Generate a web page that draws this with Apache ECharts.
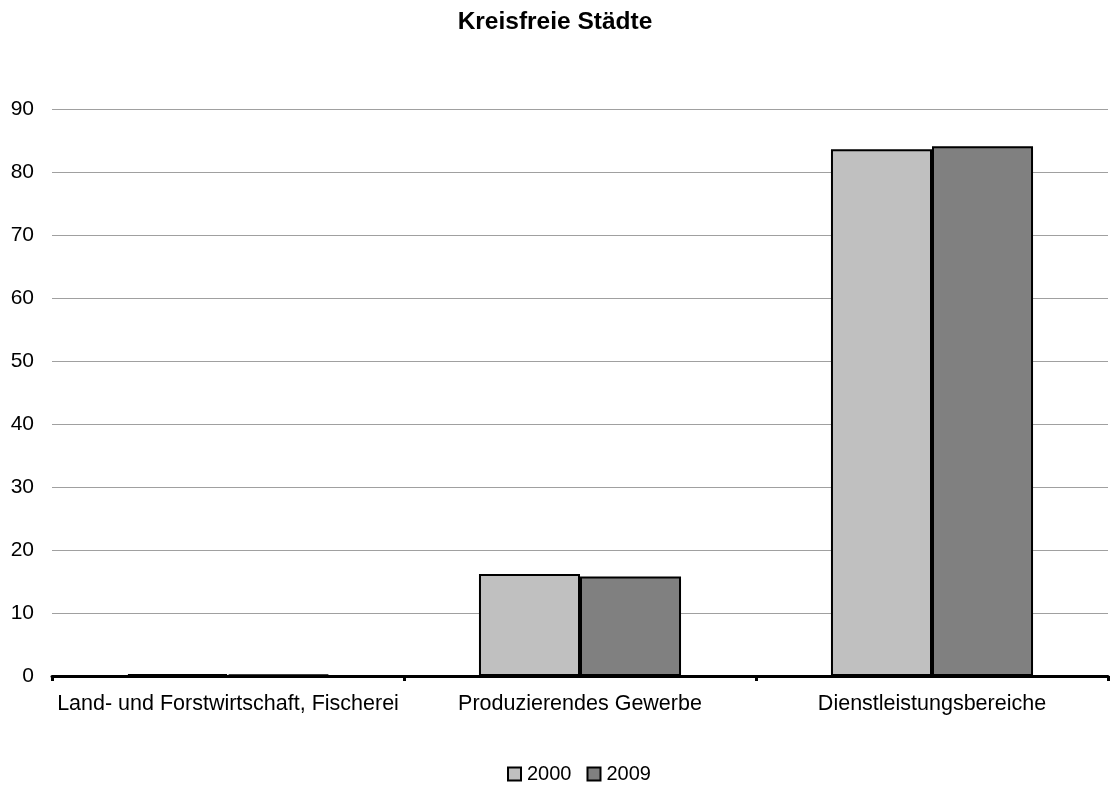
<!DOCTYPE html>
<html>
<head>
<meta charset="utf-8">
<script src="https://cdn.jsdelivr.net/npm/echarts@6/dist/echarts.min.js"></script>
<style>html,body{margin:0;padding:0;background:#fff}#c{width:1110px;height:785px}</style>
</head>
<body>
<div id="c"></div>
<script>
const categories = ['Land- und Forstwirtschaft, Fischerei', 'Produzierendes Gewerbe', 'Dienstleistungsbereiche'];
const seriesNames = ['2000', '2009'];
const values2000 = [0.3, 16.2, 83.6];
const values2009 = [0.2, 15.8, 84.1];
const title = 'Kreisfreie Städte';

const chart = echarts.init(document.getElementById('c'), null, {renderer: 'canvas'});
const font = 'Liberation Sans, Arial, sans-serif';
chart.setOption({
  animation: false,
  backgroundColor: '#fff',
  title: {
    text: title, left: 'center', top: 5,
    textStyle: {fontFamily: font, fontSize: 24.5, fontWeight: 'bold', color: '#000'}
  },
  legend: {
    top: 764, left: 507, padding: 0,
    icon: 'rect',
    itemWidth: 13, itemHeight: 13, itemGap: 15,
    textStyle: {fontFamily: font, fontSize: 20, color: '#000', padding: [0,0,0,1]},
    data: seriesNames
  },
  grid: {left: 52, right: 2, top: 109, bottom: 109, containLabel: false},
  xAxis: {
    type: 'category', data: categories,
    axisLine: {lineStyle: {color: '#000', width: 3}},
    axisTick: {show: true, interval: 0, length: 5, lineStyle: {color: '#000', width: 3}},
    axisLabel: {interval: 0, fontFamily: font, fontSize: 21.5, color: '#000', margin: 17}
  },
  yAxis: {
    type: 'value', min: 0, max: 90, interval: 10,
    axisLine: {show: false}, axisTick: {show: false},
    splitLine: {lineStyle: {color: '#a0a0a0', width: 1}},
    axisLabel: {fontFamily: font, fontSize: 21, color: '#000', margin: 18}
  },
  series: [
    {name: seriesNames[0], type: 'bar', data: values2000, barGap: '0%', barCategoryGap: '42.6%',
     itemStyle: {color: '#c0c0c0', borderColor: '#000', borderWidth: 2}},
    {name: seriesNames[1], type: 'bar', data: values2009,
     itemStyle: {color: '#808080', borderColor: '#000', borderWidth: 2}}
  ]
});
</script>
</body>
</html>
